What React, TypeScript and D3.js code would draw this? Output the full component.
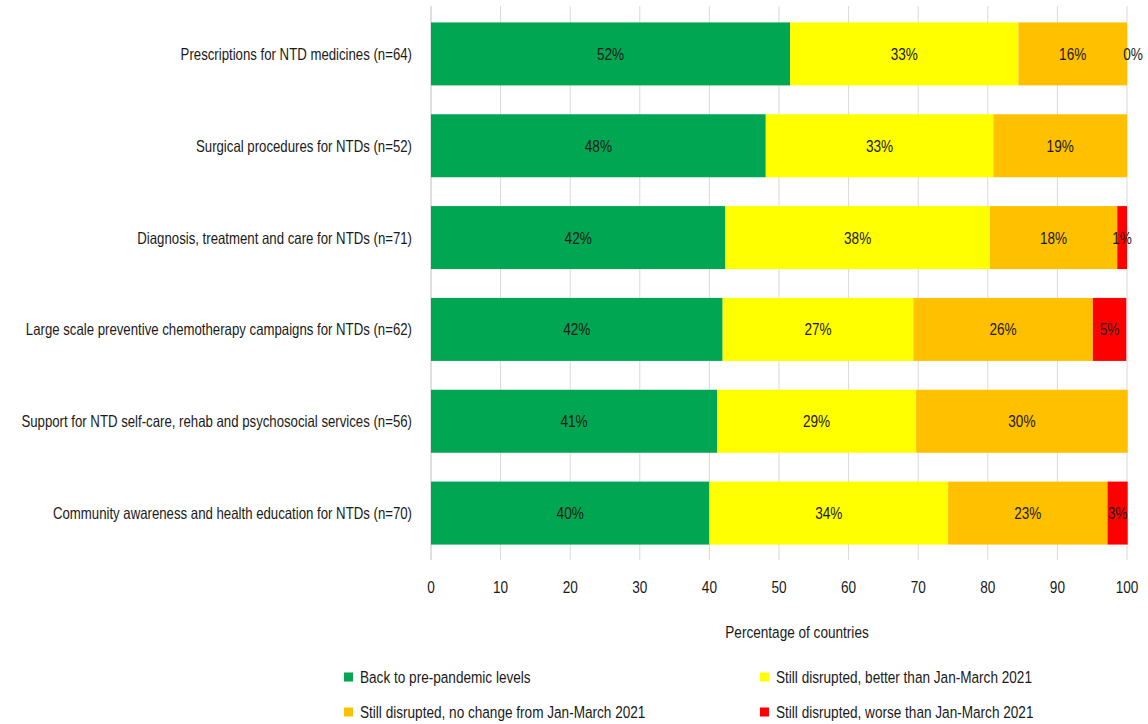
import React from "react";
import * as d3 from "d3";

const categories = [
  "Prescriptions for NTD medicines (n=64)",
  "Surgical procedures for NTDs (n=52)",
  "Diagnosis, treatment and care for NTDs (n=71)",
  "Large scale preventive chemotherapy campaigns for NTDs (n=62)",
  "Support for NTD self-care, rehab and psychosocial services (n=56)",
  "Community awareness and health education for NTDs (n=70)",
];

const seriesNames = [
  "Back to pre-pandemic levels",
  "Still disrupted, better than Jan-March 2021",
  "Still disrupted, no change from Jan-March 2021",
  "Still disrupted, worse than Jan-March 2021",
];

const backToNormal = [51.6, 48.1, 42.3, 41.9, 41.1, 40.0];
const betterThan = [32.8, 32.7, 38.0, 27.4, 28.6, 34.3];
const noChange = [15.6, 19.2, 18.3, 25.8, 30.4, 22.9];
const worseThan: (number | null)[] = [0, null, 1.4, 4.8, null, 2.9];

const xTicks = [0, 10, 20, 30, 40, 50, 60, 70, 80, 90, 100];
const xTitle = "Percentage of countries";

const colors = ["#00A651", "#FFFF00", "#FFC000", "#FF0000"];
const FONT = "'Liberation Sans', Arial, sans-serif";
const SX = 0.8;

function Txt({ x, y, anchor = "start", size = 17, children }: any) {
  return (
    <text
      transform={`translate(${x},${y}) scale(${SX},1)`}
      textAnchor={anchor}
      dominantBaseline="central"
      fontSize={size}
      fill="#1a1a1a"
    >
      {children}
    </text>
  );
}

export default function App() {
  const W = 1148, H = 724;
  const x = d3.scaleLinear().domain([0, 100]).range([431, 1127]);
  const y = d3.scaleBand<string>().domain(categories).range([8, 559]).paddingInner(0.314).paddingOuter(0.157);
  const series = [backToNormal, betterThan, noChange, worseThan];
  const fmt = d3.format(".0f");

  const rows = categories.map((c, i) => {
    let acc = 0;
    const segs = series.map((s, k) => {
      const v = s[i];
      const x0 = acc;
      acc += v ?? 0;
      return { k, v, x0, x1: acc };
    });
    return { c, segs };
  });

  const legend = [
    { k: 0, lx: 344, ly: 677 },
    { k: 1, lx: 760, ly: 677 },
    { k: 2, lx: 344, ly: 712 },
    { k: 3, lx: 760, ly: 712 },
  ];

  return (
    <svg width={W} height={H} style={{ position: "absolute", left: 0, top: 0, background: "#fff" }} fontFamily={FONT}>
      {xTicks.map((t) => (
        <line key={t} x1={x(t)} x2={x(t)} y1={6} y2={560} stroke={t === 0 ? "#bfbfbf" : "#d9d9d9"} strokeWidth={1} />
      ))}
      {rows.map((r) => (
        <g key={r.c}>
          {r.segs.map((s) =>
            s.v === null ? null : (
              <rect key={s.k} x={x(s.x0)} y={y(r.c)!} width={Math.max(0, x(s.x1) - x(s.x0))} height={y.bandwidth()} fill={colors[s.k]} />
            )
          )}
          {r.segs.map((s) =>
            s.v === null ? null : (
              <Txt
                key={"t" + s.k}
                x={s.v === 0 ? x(s.x0) + 6 : (x(s.x0) + x(s.x1)) / 2}
                y={y(r.c)! + y.bandwidth() / 2}
                anchor="middle"
              >
                {fmt(s.v) + "%"}
              </Txt>
            )
          )}
          <Txt x={412} y={y(r.c)! + y.bandwidth() / 2} anchor="end" size={16.5}>
            {r.c}
          </Txt>
        </g>
      ))}
      {xTicks.map((t) => (
        <Txt key={"xt" + t} x={x(t)} y={587} anchor="middle">
          {t}
        </Txt>
      ))}
      <Txt x={797} y={632} anchor="middle">
        {xTitle}
      </Txt>
      {legend.map((l) => (
        <g key={l.k}>
          <rect x={l.lx} y={l.ly - 4.5} width={9} height={9} fill={colors[l.k]} />
          <Txt x={l.lx + 16} y={l.ly}>
            {seriesNames[l.k]}
          </Txt>
        </g>
      ))}
    </svg>
  );
}
